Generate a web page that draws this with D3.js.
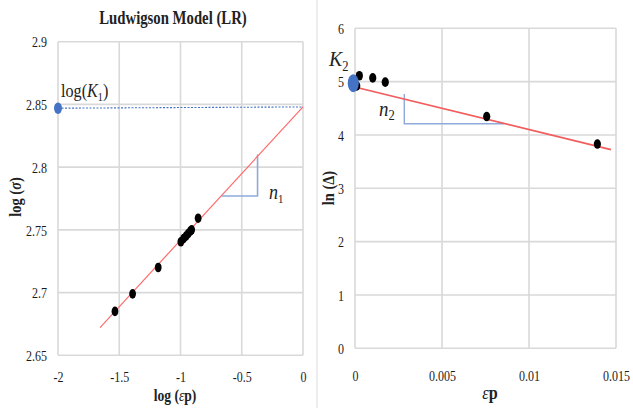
<!DOCTYPE html>
<html><head><meta charset="utf-8">
<script src="https://cdn.jsdelivr.net/npm/d3@7"></script>
<style>body{margin:0;background:#fff}svg{display:block}text{font-family:"Liberation Serif","Times New Roman",serif}</style>
</head><body><svg id="c" width="633" height="408"></svg>
<script>
// Left panel (Ludwigson model)
const leftTitle = "Ludwigson Model (LR)";
const leftXTicks = [-2, -1.5, -1, -0.5, 0];
const leftYTicks = [2.65, 2.7, 2.75, 2.8, 2.85, 2.9];
const leftX = [-1.535, -1.391, -1.182, -0.997, -0.975, -0.955, -0.937, -0.92, -0.909, -0.856];
const leftY = [2.685, 2.699, 2.720, 2.7405, 2.743, 2.745, 2.747, 2.749, 2.750, 2.7593];
const leftFitX = [-1.657, 0];
const leftFitY = [2.672, 2.848];
const leftK = [-2, 2.847];
const leftRefX = [-2, 0];
const leftRefY = [2.847, 2.848];
const leftTriX = [-0.665, -0.371, -0.371];
const leftTriY = [2.777, 2.777, 2.81];

// Right panel
const rightXTicks = [0, 0.005, 0.01, 0.015];
const rightXTickLabels = ["0", "0.005", "0.01", "0.015"];
const rightYTicks = [0, 1, 2, 3, 4, 5, 6];
const rightX = [0.0001, 0.00025, 0.00102, 0.00174, 0.00757, 0.01393];
const rightY = [4.92, 5.11, 5.07, 4.99, 4.345, 3.83];
const rightFitX = [0.0001, 0.01471];
const rightFitY = [4.89, 3.726];
const rightK = [-0.0001, 4.97];
const rightTriX = [0.002833, 0.002833, 0.00858];
const rightTriY = [4.77, 4.21, 4.21];

const svg = d3.select("#c");
const SX = 0.8;
const grid = "#d9d9d9";

// divider
svg.append("line").attr("x1",317).attr("x2",317).attr("y1",0).attr("y2",408).attr("stroke","#dcdcdc").attr("stroke-width",1);

function panel(o){
  const g = svg.append("g");
  const x = d3.scaleLinear().domain(o.xd).range(o.xr);
  const y = d3.scaleLinear().domain(o.yd).range(o.yr);
  g.append("g").selectAll("line").data(o.xt).join("line")
    .attr("x1",d=>x(d)).attr("x2",d=>x(d)).attr("y1",o.yr[0]).attr("y2",o.yr[1])
    .attr("stroke",grid).attr("stroke-width",1.6);
  g.append("g").selectAll("line").data(o.yt).join("line")
    .attr("y1",d=>y(d)).attr("y2",d=>y(d)).attr("x1",o.xr[0]).attr("x2",o.xr[1])
    .attr("stroke",grid).attr("stroke-width",1.6);
  const xa = g.append("g").attr("transform",`translate(0,${o.xLabY})`)
    .call(d3.axisBottom(x).tickValues(o.xt).tickSize(0).tickPadding(0).tickFormat((d,i)=>o.xtl[i]));
  xa.select(".domain").remove();
  xa.selectAll("text").attr("dy",0).attr("y",0).attr("font-size",15).attr("fill","#1a1a1a")
    .attr("font-family","Liberation Serif").attr("transform",`scale(${SX},1)`).attr("x",0);
  const ya = g.append("g").attr("transform",`translate(${o.yLabX},0)`)
    .call(d3.axisLeft(y).tickValues(o.yt).tickSize(0).tickPadding(0).tickFormat(o.ytf));
  ya.select(".domain").remove();
  ya.selectAll("text").attr("x",0).attr("dy","0.35em").attr("font-size",15).attr("fill","#1a1a1a")
    .attr("font-family","Liberation Serif").attr("transform",`scale(${SX},1)`);
  return {g,x,y};
}

// LEFT
const L = panel({xd:[-2,0], xr:[58,303], yd:[2.65,2.9], yr:[355.3,41.7],
  xt:leftXTicks, xtl:leftXTicks.map(d=>String(d)), yt:leftYTicks, ytf:d=>String(d),
  xLabY:382, yLabX:47});
svg.append("text").attr("transform","translate(173,24) scale(0.82,1)").attr("text-anchor","middle")
  .attr("font-size",18).attr("font-weight","bold").attr("fill","#222").text(leftTitle);
svg.append("text").attr("transform","translate(175,401) scale(0.85,1)").attr("text-anchor","middle")
  .attr("font-size",16).attr("font-weight","bold").attr("fill","#222")
  .call(t=>{t.append("tspan").text("log (");t.append("tspan").attr("font-weight","normal").attr("font-style","italic").text("ε");t.append("tspan").text("p)");});
svg.append("text").attr("transform","translate(21,197) rotate(-90) scale(0.85,1)").attr("text-anchor","middle")
  .attr("font-size",17).attr("font-weight","bold").attr("fill","#222")
  .call(t=>{t.append("tspan").text("log (");t.append("tspan").attr("font-style","italic").text("σ");t.append("tspan").text(")");});

L.g.append("line").attr("x1",L.x(leftRefX[0])).attr("x2",L.x(leftRefX[1])).attr("y1",L.y(leftRefY[0])).attr("y2",L.y(leftRefY[1]))
  .attr("stroke","#4472c4").attr("stroke-width",1.1).attr("stroke-dasharray","2,1.5");
L.g.append("path").attr("d",d3.line().x(d=>L.x(d[0])).y(d=>L.y(d[1]))(leftTriX.map((v,i)=>[v,leftTriY[i]])))
  .attr("fill","none").attr("stroke","#8eaadb").attr("stroke-width",1.6);
L.g.append("line").attr("x1",L.x(leftFitX[0])).attr("x2",L.x(leftFitX[1])).attr("y1",L.y(leftFitY[0])).attr("y2",L.y(leftFitY[1]))
  .attr("stroke","#ff6b6b").attr("stroke-width",1.2);
L.g.append("g").selectAll("ellipse").data(leftX.map((v,i)=>[v,leftY[i]])).join("ellipse")
  .attr("cx",d=>L.x(d[0])).attr("cy",d=>L.y(d[1])).attr("rx",3.4).attr("ry",4.8).attr("fill","#000");
L.g.append("ellipse").attr("cx",L.x(leftK[0])).attr("cy",L.y(leftK[1])).attr("rx",4).attr("ry",5.8).attr("fill","#4472c4");
svg.append("text").attr("transform","translate(61,97) scale(0.85,1)").attr("font-size",19).attr("fill","#222")
  .call(t=>{t.append("tspan").text("log(");t.append("tspan").attr("font-style","italic").text("K");
    t.append("tspan").attr("font-size",12).attr("dy",4).text("1");t.append("tspan").attr("dy",-4).text(")");});
svg.append("text").attr("transform","translate(269,199) scale(0.9,1)").attr("font-size",20).attr("fill","#222")
  .call(t=>{t.append("tspan").attr("font-style","italic").text("n");t.append("tspan").attr("font-size",12).attr("dy",4).text("1");});

// RIGHT
const R = panel({xd:[0,0.015], xr:[355,616], yd:[0,6], yr:[348.3,28.3],
  xt:rightXTicks, xtl:rightXTickLabels, yt:rightYTicks, ytf:d=>String(d),
  xLabY:381, yLabX:344});
svg.append("text").attr("transform","translate(490,399) scale(0.9,1)").attr("text-anchor","middle")
  .attr("font-size",18).attr("font-weight","bold").attr("fill","#222")
  .call(t=>{t.append("tspan").attr("font-style","italic").attr("font-weight","normal").text("ε");t.append("tspan").text("p");});
svg.append("text").attr("transform","translate(334,188) rotate(-90) scale(0.85,1)").attr("text-anchor","middle")
  .attr("font-size",17).attr("font-weight","bold").attr("fill","#222").text("ln (Δ)");
R.g.append("path").attr("d",d3.line().x(d=>R.x(d[0])).y(d=>R.y(d[1]))(rightTriX.map((v,i)=>[v,rightTriY[i]])))
  .attr("fill","none").attr("stroke","#8eaadb").attr("stroke-width",1.4);
R.g.append("line").attr("x1",R.x(rightFitX[0])).attr("x2",R.x(rightFitX[1])).attr("y1",R.y(rightFitY[0])).attr("y2",R.y(rightFitY[1]))
  .attr("stroke","#f25c5c").attr("stroke-width",1.8);
R.g.append("g").selectAll("ellipse").data(rightX.map((v,i)=>[v,rightY[i]])).join("ellipse")
  .attr("cx",d=>R.x(d[0])).attr("cy",d=>R.y(d[1])).attr("rx",3.6).attr("ry",4.8).attr("fill","#000");
R.g.append("ellipse").attr("cx",R.x(rightK[0])).attr("cy",R.y(rightK[1])).attr("rx",5.5).attr("ry",9).attr("fill","#4472c4");
svg.append("text").attr("transform","translate(329,66) scale(0.9,1)").attr("font-size",22).attr("fill","#222")
  .call(t=>{t.append("tspan").attr("font-style","italic").text("K");t.append("tspan").attr("font-size",14).attr("dy",5).text("2");});
svg.append("text").attr("transform","translate(379,116) scale(0.9,1)").attr("font-size",21).attr("fill","#222")
  .call(t=>{t.append("tspan").attr("font-style","italic").text("n");t.append("tspan").attr("font-size",14).attr("dy",4).text("2");});
</script></body></html>
